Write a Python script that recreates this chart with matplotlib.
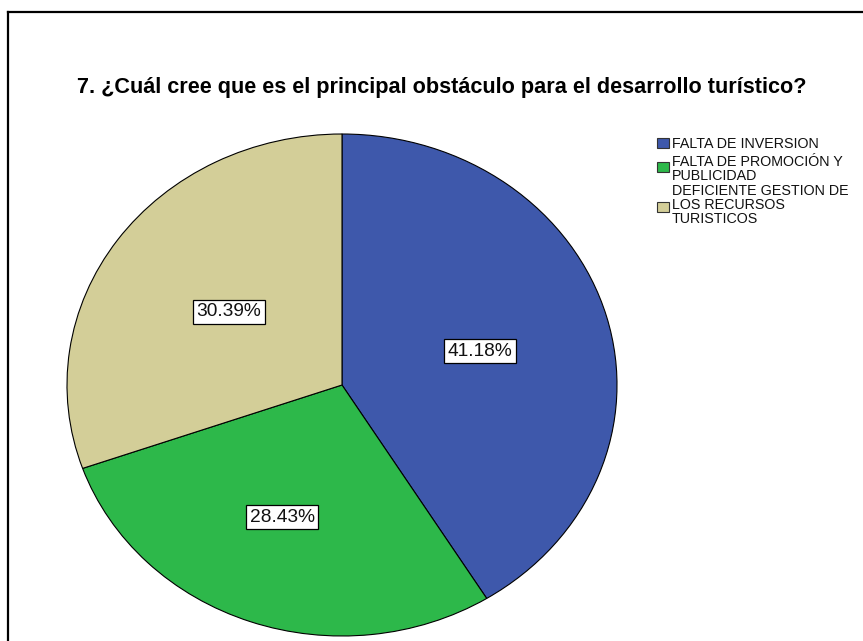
import matplotlib
matplotlib.use('Agg')
import matplotlib.pyplot as plt
from matplotlib.patches import Rectangle
from matplotlib.lines import Line2D

plt.rcParams['font.family'] = ['Liberation Sans', 'DejaVu Sans']

title = '7. ¿Cuál cree que es el principal obstáculo para el desarrollo turístico?'
categories = ['FALTA DE INVERSION',
              'FALTA DE PROMOCIÓN Y\nPUBLICIDAD',
              'DEFICIENTE GESTION DE\nLOS RECURSOS\nTURISTICOS']
percents = [41.18, 28.43, 30.39]
colors = ['#3e58ab', '#2db84a', '#d3ce98']

W, H = 863, 641
fig = plt.figure(figsize=(W / 100, H / 100), dpi=100)


def px(x, y):
    # pixel position measured from the top-left corner -> figure fraction
    return x / W, 1 - y / H


# outer frame (only top and left edges are inside the canvas)
fig.add_artist(Line2D([8 / W, 1], [1 - 12 / H] * 2, color='black', lw=1.6,
                      transform=fig.transFigure))
fig.add_artist(Line2D([8 / W] * 2, [0, 1 - 12 / H], color='black', lw=1.6,
                      transform=fig.transFigure))

# elliptical pie: axes box spans the pie's bounding box, aspect left free
left, top, right, bottom = 67, 134, 617, 636
ax = fig.add_axes([left / W, 1 - bottom / H, (right - left) / W, (bottom - top) / H])
wedges, texts, autotexts = ax.pie(
    percents, colors=colors, startangle=90, counterclock=False,
    autopct='%.2f%%', pctdistance=0.53,
    wedgeprops=dict(edgecolor='black', linewidth=0.8),
    textprops=dict(fontsize=13.8, color='#111111'))

# label anchors inside each slice (axes data units)
label_xy = [(0.502, 0.135), (-0.218, -0.526), (-0.411, 0.291)]
for t, xy in zip(autotexts, label_xy):
    t.set_position(xy)
    t.set_bbox(dict(boxstyle='square,pad=0.18', facecolor='white',
                    edgecolor='black', linewidth=0.9))
ax.set_aspect('auto')
ax.set_xlim(-1, 1)
ax.set_ylim(-1, 1)
ax.axis('off')

fig.text(*px(442, 88), title, ha='center', va='center',
         fontsize=15.6, fontweight='bold')

# legend drawn by hand to get SPSS-like tight line spacing
legend_rows = [(138, 144), (162, 169), (202, 205)]
for (sq_y, txt_y), label, c in zip(legend_rows, categories, colors):
    x0, y0 = px(657, sq_y + 10)
    fig.add_artist(Rectangle((x0, y0), 12 / W, 10 / H, facecolor=c,
                             edgecolor='#333333', linewidth=0.8,
                             transform=fig.transFigure))
    fig.text(*px(672, txt_y), label, ha='left', va='center',
             fontsize=10.3, linespacing=1.02, color='#111111')

fig.savefig('out.png', dpi=100)
